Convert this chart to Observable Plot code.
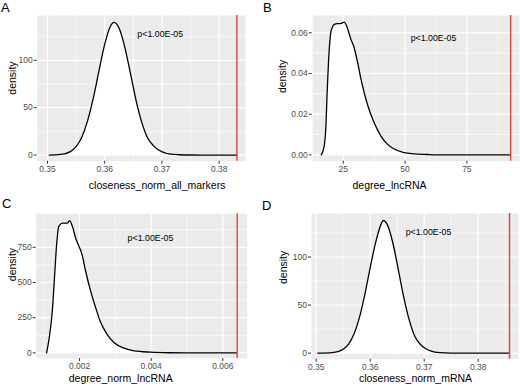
<!DOCTYPE html>
<html><head><meta charset="utf-8">
<script src="https://cdn.jsdelivr.net/npm/d3@7"></script>
<script src="https://cdn.jsdelivr.net/npm/@observablehq/plot@0.6"></script>
<style>
body{margin:0;background:#fff;}
#fig{position:relative;width:520px;height:387px;font-family:"Liberation Sans",Arial,sans-serif;overflow:hidden;}
.pn{position:absolute;}
.lab{position:absolute;font-size:13px;line-height:13px;color:#000;}
</style></head><body><div id="fig"></div>
<script>
// ---- Panel A: closeness_norm_all_markers ----
const aX = [0.3503, 0.352, 0.353, 0.354, 0.355, 0.356, 0.357, 0.358, 0.359, 0.360, 0.361, 0.3616, 0.3625, 0.3635, 0.3645, 0.3655, 0.3665, 0.3675, 0.3685, 0.3695, 0.3705, 0.3715, 0.373, 0.375, 0.377, 0.3831];
const aY = [0, 0.5, 1.3, 3.6, 8.8, 19, 36, 60, 89, 117, 136, 140, 134, 114, 86, 57, 34, 18, 10, 5, 2.2, 0.9, 0.3, 0.05, 0, 0];
const aObserved = 0.3831;
const aXTicks = [0.35, 0.36, 0.37, 0.38];
const aYTicks = [0, 50, 100];

// ---- Panel B: degree_lncRNA ----
const bX = [16.1, 17.2, 17.9, 18.5, 19.2, 19.9, 20.5, 21.2, 22.6, 23.9, 25.3, 26.6, 28.0, 29.3, 30.6, 32.0, 34.7, 37.4, 40.1, 42.7, 45.4, 49.5, 53.5, 58.9, 65, 92.7];
const bY = [0, 0.0040, 0.013, 0.032, 0.050, 0.060, 0.0625, 0.064, 0.0645, 0.0645, 0.0652, 0.0625, 0.057, 0.053, 0.0464, 0.038, 0.025, 0.016, 0.0095, 0.0054, 0.003, 0.0011, 0.0005, 0.0002, 0, 0];
const bObserved = 92.7;
const bXTicks = [25, 50, 75];
const bYTicks = [0, 0.02, 0.04, 0.06];

// ---- Panel C: degree_norm_lncRNA ----
const cX = [0.00108, 0.00114, 0.00124, 0.0013, 0.00136, 0.00142, 0.00152, 0.00166, 0.00172, 0.0018, 0.00189, 0.00198, 0.00207, 0.00217, 0.00231, 0.00245, 0.00259, 0.00277, 0.00296, 0.00324, 0.00352, 0.00398, 0.0045, 0.005, 0.0064];
const cY = [0, 85, 297, 533, 769, 899, 922, 922, 939, 899, 816, 760, 698, 580, 439, 321, 215, 132, 73, 33, 14, 5, 1, 0, 0];
const cObserved = 0.0064;
const cXTicks = [0.002, 0.004, 0.006];
const cYTicks = [0, 250, 500, 750];

// ---- Panel D: closeness_norm_mRNA ----
const dX = [0.3503, 0.353, 0.354, 0.355, 0.356, 0.357, 0.358, 0.359, 0.360, 0.361, 0.362, 0.3624, 0.3633, 0.3643, 0.3653, 0.3663, 0.3673, 0.3683, 0.3693, 0.3703, 0.3713, 0.3723, 0.374, 0.376, 0.3858];
const dY = [0, 0.6, 1.6, 4, 9.5, 20, 37, 61, 89, 115, 134, 138, 132, 112, 84, 56, 33, 17, 9, 4.5, 2, 0.8, 0.2, 0, 0];
const dObserved = 0.3858;
const dXTicks = [0.35, 0.36, 0.37, 0.38];
const dYTicks = [0, 50, 100];

const pLabel = "p<1.00E-05";
const titles = ["closeness_norm_all_markers", "degree_lncRNA", "degree_norm_lncRNA", "closeness_norm_mRNA"];
const letters = ["A", "B", "C", "D"];

const FONT = '"Liberation Sans", Arial, sans-serif';
const PANEL_BG = "#EBEBEB";
const RED = "#E0443E";

function minorBetween(ticks, domain) {
  const step = ticks[1] - ticks[0];
  const out = [];
  for (let v = ticks[0] - step / 2; v <= domain[1]; v += step) {
    if (v >= domain[0]) out.push(+v.toPrecision(10));
  }
  return out;
}

function panel(o) {
  const data = o.xs.map((x, i) => ({x, y: o.ys[i]}));
  return Plot.plot({
    width: o.width, height: o.height,
    marginLeft: o.m[0], marginRight: o.m[1], marginTop: o.m[2], marginBottom: o.m[3],
    style: {fontFamily: FONT, background: "transparent", overflow: "visible"},
    x: {domain: o.xDomain, axis: null},
    y: {domain: o.yDomain, axis: null},
    marks: [
      Plot.frame({fill: PANEL_BG, stroke: null}),
      Plot.gridX(minorBetween(o.xTicks, o.xDomain), {stroke: "white", strokeOpacity: 1, strokeWidth: 0.6}),
      Plot.gridY(minorBetween(o.yTicks, o.yDomain), {stroke: "white", strokeOpacity: 1, strokeWidth: 0.6}),
      Plot.gridX(o.xTicks, {stroke: "white", strokeOpacity: 1, strokeWidth: 1.2}),
      Plot.gridY(o.yTicks, {stroke: "white", strokeOpacity: 1, strokeWidth: 1.2}),
      Plot.areaY(data, {x: "x", y: "y", fill: "white", curve: "monotone-x"}),
      Plot.lineY(data, {x: "x", y: "y", stroke: "black", strokeWidth: 1.3, curve: "monotone-x"}),
      Plot.ruleX([o.observed], {stroke: RED, strokeWidth: 1.4}),
      Plot.text([pLabel], {x: o.pPos[0], y: o.pPos[1], text: d => d, fontSize: 8.8, fill: "black"}),
      Plot.axisX(o.xTicks, {tickFormat: o.xFmt, tickSize: 3, tickPadding: 1.5, fontSize: 8.5, fill: "#4D4D4D", stroke: "#333", label: null}),
      Plot.axisY(o.yTicks, {tickFormat: o.yFmt, tickSize: 3, tickPadding: 1.5, fontSize: 8.5, fill: "#4D4D4D", stroke: "#333", label: null}),
      Plot.text([o.title], {frameAnchor: "bottom", text: d => d, dx: o.xt[0], dy: o.xt[1], fontSize: 10.5, fill: "black", lineAnchor: "middle"}),
      Plot.text(["density"], {frameAnchor: "left", text: d => d, dx: o.yt[0], dy: o.yt[1], rotate: -90, fontSize: 10.5, fill: "black", textAnchor: "middle", lineAnchor: "middle"})
    ]
  });
}

const fig = document.getElementById("fig");
const specs = [
  {left: 0, top: 0, width: 260, height: 194, m: [36.7, 15, 15, 33.3],
   xs: aX, ys: aY, observed: aObserved, xTicks: aXTicks, yTicks: aYTicks,
   xDomain: [0.3482, 0.3846], yDomain: [-6.5, 147.3], xFmt: d3.format(".2f"), yFmt: d3.format("d"),
   pPos: [0.3697, 128], title: titles[0], xt: [15.8, 24.3], yt: [-25, -10.3]},
  {left: 260, top: 0, width: 260, height: 194, m: [51.7, 1, 15, 33.3],
   xs: bX, ys: bY, observed: bObserved, xTicks: bXTicks, yTicks: bYTicks,
   xDomain: [12.4, 96.3], yDomain: [-0.0031, 0.0685], xFmt: d3.format("d"), yFmt: d3.format(".2f"),
   pPos: [61.5, 0.0575], title: titles[1], xt: [-26.3, 24.8], yt: [-30, -11.9]},
  {left: 0, top: 194, width: 260, height: 193, m: [35.7, 13.3, 19.3, 29],
   xs: cX, ys: cY, observed: cObserved, xTicks: cXTicks, yTicks: cYTicks,
   xDomain: [0.00079, 0.00668], yDomain: [-40, 988], xFmt: d3.format(".3f"), yFmt: d3.format("d"),
   pPos: [0.00398, 817], title: titles[2], xt: [-21, 20], yt: [-24, -21.6]},
  {left: 260, top: 194, width: 260, height: 193, m: [51, 2, 19, 28.3],
   xs: dX, ys: dY, observed: dObserved, xTicks: dXTicks, yTicks: dYTicks,
   xDomain: [0.34913, 0.38746], yDomain: [-6.3, 145.3], xFmt: d3.format(".2f"), yFmt: d3.format("d"),
   pPos: [0.3708, 125.7], title: titles[3], xt: [0.5, 19.5], yt: [-28, -19]}
];
const letterPos = [[1, 1], [263, 1], [2, 197], [262, 199]];
specs.forEach((s, i) => {
  const div = document.createElement("div");
  div.className = "pn";
  div.style.left = s.left + "px";
  div.style.top = s.top + "px";
  div.appendChild(panel(s));
  fig.appendChild(div);
  const lab = document.createElement("div");
  lab.className = "lab";
  lab.style.left = letterPos[i][0] + "px";
  lab.style.top = letterPos[i][1] + "px";
  lab.textContent = letters[i];
  fig.appendChild(lab);
});
</script></body></html>
